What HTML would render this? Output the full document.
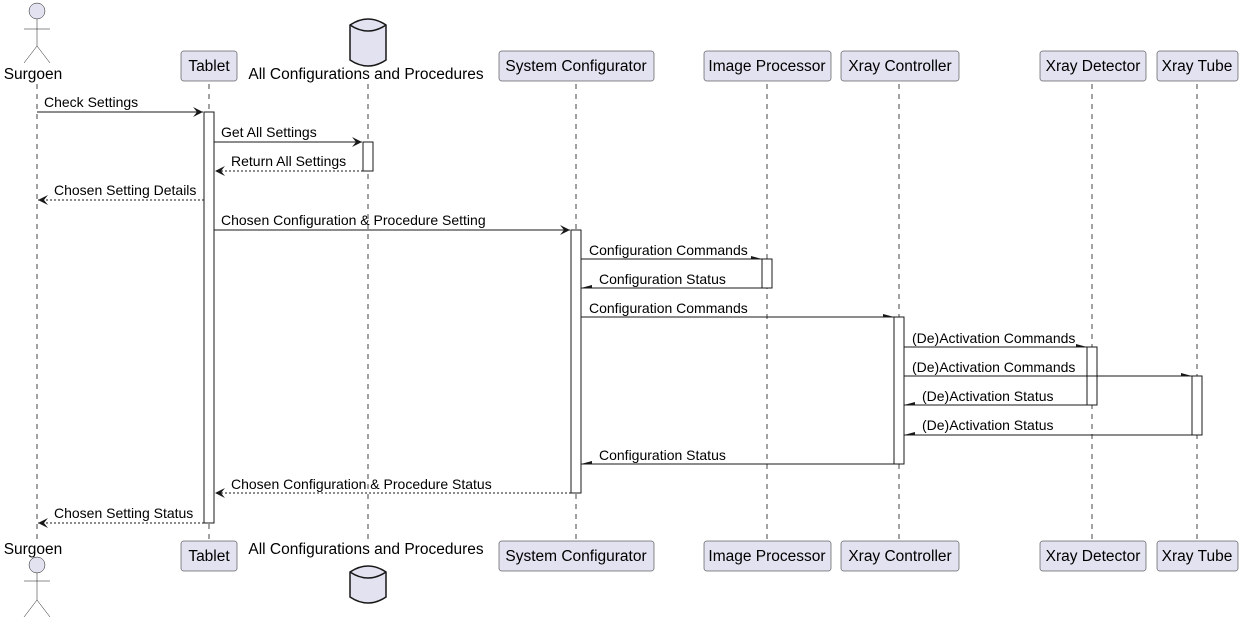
<!DOCTYPE html>
<html><head><meta charset="utf-8"><style>
html,body{margin:0;padding:0;background:#fff;}
svg text{font-family:"Liberation Sans",sans-serif;font-size:14px;fill:#000;}
svg text.p{font-size:15.5px;}
</style></head><body>
<svg width="1244" height="621" viewBox="0 0 1244 621" xmlns="http://www.w3.org/2000/svg">
<defs>
<marker id="open" markerWidth="12" markerHeight="10" refX="10" refY="5" orient="auto" markerUnits="userSpaceOnUse">
<path d="M0,0 L10,5 L0,10 L4,5 Z" fill="#181818"/></marker>
</defs>
<g stroke="#181818" stroke-width="0.8" stroke-dasharray="5,5">
<line x1="37" y1="84" x2="37" y2="540"/>
<line x1="209" y1="84" x2="209" y2="540"/>
<line x1="368" y1="84" x2="368" y2="540"/>
<line x1="576" y1="84" x2="576" y2="540"/>
<line x1="767" y1="84" x2="767" y2="540"/>
<line x1="899" y1="84" x2="899" y2="540"/>
<line x1="1092" y1="84" x2="1092" y2="540"/>
<line x1="1197" y1="84" x2="1197" y2="540"/>
</g>
<g fill="#e2e2f0" stroke="#181818" stroke-width="0.5">
<rect x="181" y="51" width="56" height="30" rx="2.5"/>
<rect x="499" y="51" width="155" height="30" rx="2.5"/>
<rect x="704" y="51" width="127" height="30" rx="2.5"/>
<rect x="841" y="51" width="118" height="30" rx="2.5"/>
<rect x="1040" y="51" width="106" height="30" rx="2.5"/>
<rect x="1157" y="51" width="81" height="30" rx="2.5"/>
<rect x="181" y="541" width="56" height="30" rx="2.5"/>
<rect x="499" y="541" width="155" height="30" rx="2.5"/>
<rect x="704" y="541" width="127" height="30" rx="2.5"/>
<rect x="841" y="541" width="118" height="30" rx="2.5"/>
<rect x="1040" y="541" width="106" height="30" rx="2.5"/>
<rect x="1157" y="541" width="81" height="30" rx="2.5"/>
</g>
<g text-anchor="middle">
<text class="p" x="209" y="71">Tablet</text>
<text class="p" x="576" y="71">System Configurator</text>
<text class="p" x="767" y="71">Image Processor</text>
<text class="p" x="900" y="71">Xray Controller</text>
<text class="p" x="1093" y="71">Xray Detector</text>
<text class="p" x="1197" y="71">Xray Tube</text>
<text class="p" x="209" y="561">Tablet</text>
<text class="p" x="576" y="561">System Configurator</text>
<text class="p" x="767" y="561">Image Processor</text>
<text class="p" x="900" y="561">Xray Controller</text>
<text class="p" x="1093" y="561">Xray Detector</text>
<text class="p" x="1197" y="561">Xray Tube</text>
<text class="p" x="33" y="79">Surgoen</text>
<text class="p" x="33" y="554">Surgoen</text>
<text class="p" x="366" y="79">All Configurations and Procedures</text>
<text class="p" x="366" y="554">All Configurations and Procedures</text>
</g>
<g fill="#e2e2f0" stroke="#181818" stroke-width="0.5">
<circle cx="37" cy="11" r="8"/>
<path d="M37,19 V46 M24,29 H50 M24,63 L37,46 L50,63" fill="none"/>
<circle cx="37" cy="565" r="8"/>
<path d="M37,573 V600 M24,581 H50 M24,617 L37,600 L50,617" fill="none"/>
</g>
<g fill="#e2e2f0" stroke="#181818" stroke-width="1.5">
<path d="M350,25 Q368,13 386,25 V60 Q368,72 350,60 Z"/>
<path d="M350,25 Q368,37 386,25" fill="none"/>
<path d="M350,572 Q368,560 386,572 V597 Q368,609 350,597 Z"/>
<path d="M350,572 Q368,584 386,572" fill="none"/>
</g>
<g fill="#fff" stroke="#181818" stroke-width="1">
<rect x="204" y="112" width="10" height="411"/>
<rect x="363" y="142" width="10" height="29"/>
<rect x="571" y="230" width="10" height="263"/>
<rect x="762" y="259" width="10" height="29"/>
<rect x="894" y="317" width="10" height="147"/>
<rect x="1087" y="347" width="10" height="58"/>
<rect x="1192" y="376" width="10" height="59"/>
</g>
<g stroke="#181818" stroke-width="1" fill="none">
<line x1="37" y1="112" x2="203" y2="112" marker-end="url(#open)"/>
<line x1="214" y1="142" x2="362" y2="142" marker-end="url(#open)"/>
<line x1="363" y1="171" x2="215" y2="171" stroke-dasharray="2,2" marker-end="url(#open)"/>
<line x1="204" y1="200" x2="38" y2="200" stroke-dasharray="2,2" marker-end="url(#open)"/>
<line x1="214" y1="230" x2="570" y2="230" marker-end="url(#open)"/>
<line x1="581" y1="259" x2="762" y2="259"/>
<line x1="762" y1="288" x2="581" y2="288"/>
<line x1="581" y1="317" x2="894" y2="317"/>
<line x1="904" y1="347" x2="1087" y2="347"/>
<line x1="904" y1="376" x2="1192" y2="376"/>
<line x1="1087" y1="405" x2="904" y2="405"/>
<line x1="1192" y1="435" x2="904" y2="435"/>
<line x1="894" y1="464" x2="581" y2="464"/>
<line x1="571" y1="493" x2="215" y2="493" stroke-dasharray="2,2" marker-end="url(#open)"/>
<line x1="204" y1="523" x2="38" y2="523" stroke-dasharray="2,2" marker-end="url(#open)"/>
</g>
<g fill="#181818">
<path d="M751,256 L762,259 L751,259 Z"/>
<path d="M592,285 L581,288 L592,288 Z"/>
<path d="M883,314 L894,317 L883,317 Z"/>
<path d="M1076,344 L1087,347 L1076,347 Z"/>
<path d="M1181,373 L1192,376 L1181,376 Z"/>
<path d="M915,402 L904,405 L915,405 Z"/>
<path d="M915,432 L904,435 L915,435 Z"/>
<path d="M592,461 L581,464 L592,464 Z"/>
</g>
<g>
<text x="44" y="107">Check Settings</text>
<text x="221" y="137">Get All Settings</text>
<text x="231" y="166">Return All Settings</text>
<text x="54" y="195">Chosen Setting Details</text>
<text x="221" y="225">Chosen Configuration &amp; Procedure Setting</text>
<text x="589" y="255">Configuration Commands</text>
<text x="599" y="284">Configuration Status</text>
<text x="589" y="313">Configuration Commands</text>
<text x="912" y="343">(De)Activation Commands</text>
<text x="912" y="372">(De)Activation Commands</text>
<text x="922" y="401">(De)Activation Status</text>
<text x="922" y="430">(De)Activation Status</text>
<text x="599" y="460">Configuration Status</text>
<text x="231" y="489">Chosen Configuration &amp; Procedure Status</text>
<text x="54" y="518">Chosen Setting Status</text>
</g>
</svg>
</body></html>
